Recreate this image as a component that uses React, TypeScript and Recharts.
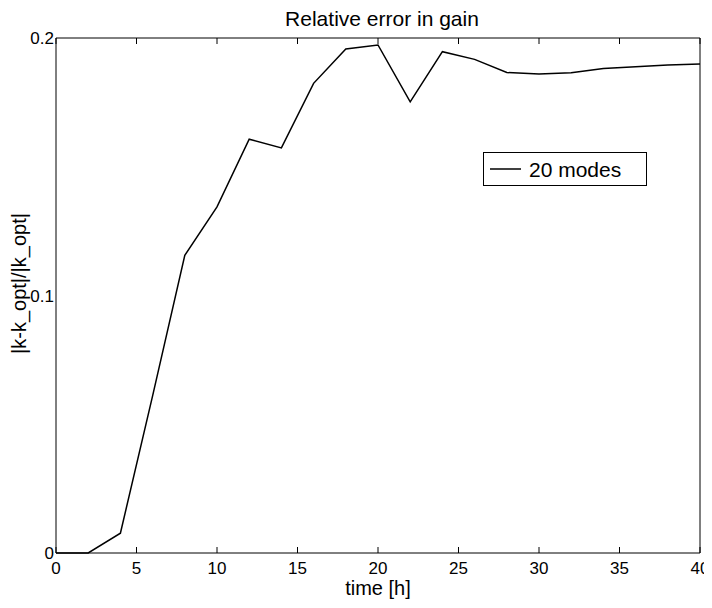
import React from 'react';
import { LineChart, Line, XAxis, YAxis, Legend } from 'recharts';

const times = [0, 2, 4, 6, 8, 10, 12, 14, 16, 18, 20, 22, 24, 26, 28, 30, 32, 34, 36, 38, 40];
const relErrors = [
    0, 0, 0.0077, 0.061, 0.1156, 0.1344, 0.1607, 0.1573, 0.1824, 0.1957, 0.1973, 0.1752, 0.1947, 0.1917,
    0.1866, 0.186, 0.1865, 0.1882, 0.1888, 0.1895, 0.1899,
];
const xTicks = [0, 5, 10, 15, 20, 25, 30, 35, 40];
const yTicks = [0, 0.1, 0.2];
const seriesName = '20 modes';

const data = times.map((t, i) => ({ t, err: relErrors[i] }));

const FONT = '"Liberation Sans", Arial, Helvetica, sans-serif';

// only the tick line is wanted on the box sides, no label
const NoLabel = () => <g />;

const LegendBox = () => (
    <svg width={164} height={34} style={{ display: 'block' }}>
        <rect x={0.5} y={0.5} width={163} height={33} fill="#fff" stroke="#000" strokeWidth={1} />
        <line x1={7} y1={17} x2={38} y2={17} stroke="#000" strokeWidth={1.5} />
        <text x={46} y={25} fontSize={21} fontFamily={FONT} fill="#000">
            {seriesName}
        </text>
    </svg>
);

const YLabel = (props: any) => {
    const vb = props.viewBox || {};
    const cx = vb.x + 11;
    const cy = vb.y + vb.height / 2 - 12;
    return (
        <text
            x={cx}
            y={cy}
            transform={`rotate(-90 ${cx} ${cy})`}
            textAnchor="middle"
            dominantBaseline="central"
            fontSize={20}
            fontFamily={FONT}
            fill="#000"
        >
            |k-k_opt|/|k_opt|
        </text>
    );
};

const XLabel = (props: any) => {
    const vb = props.viewBox || {};
    return (
        <text
            x={vb.x + vb.width / 2}
            y={vb.y + 42}
            textAnchor="middle"
            fontSize={20}
            fontFamily={FONT}
            fill="#000"
        >
            time [h]
        </text>
    );
};

const tickStyle = { fontSize: 17, fontFamily: FONT, fill: '#000' };

const App = () => {
    return (
        <div style={{ position: 'relative', width: 696, height: 592, background: '#fff' }}>
            <style>{'.recharts-surface { overflow: visible; }'}</style>
            <div
                style={{
                    position: 'absolute',
                    top: 1,
                    left: 0,
                    width: 748,
                    textAlign: 'center',
                    fontFamily: FONT,
                    fontSize: 21,
                    lineHeight: '20px',
                    color: '#000',
                    zIndex: 2,
                }}
            >
                Relative error in gain
            </div>
            <LineChart
                width={696}
                height={592}
                data={data}
                margin={{ top: 30, right: 4, left: 0, bottom: 0 }}
            >
                <XAxis
                    xAxisId="main"
                    dataKey="t"
                    type="number"
                    domain={[0, 40]}
                    ticks={xTicks}
                    interval={0}
                    height={47}
                    tickLine={false}
                    tickSize={0}
                    tickMargin={9}
                    axisLine={{ stroke: '#000', strokeWidth: 1 }}
                    tick={tickStyle}
                    label={<XLabel />}
                />
                <XAxis
                    xAxisId="bottomTicks"
                    dataKey="t"
                    type="number"
                    domain={[0, 40]}
                    ticks={xTicks}
                    interval={0}
                    mirror
                    tick={NoLabel}
                    tickSize={6}
                    axisLine={false}
                    tickLine={{ stroke: '#000' }}
                />
                <XAxis
                    xAxisId="top"
                    orientation="top"
                    dataKey="t"
                    type="number"
                    domain={[0, 40]}
                    ticks={xTicks}
                    interval={0}
                    mirror
                    tick={NoLabel}
                    tickSize={6}
                    axisLine={{ stroke: '#000', strokeWidth: 1 }}
                    tickLine={{ stroke: '#000' }}
                />
                <YAxis
                    yAxisId="main"
                    type="number"
                    domain={[0, 0.2]}
                    ticks={yTicks}
                    interval={0}
                    width={48}
                    tickLine={false}
                    tickSize={0}
                    tickMargin={2}
                    axisLine={{ stroke: '#000', strokeWidth: 1 }}
                    tick={tickStyle}
                    label={<YLabel />}
                />
                <YAxis
                    yAxisId="leftTicks"
                    type="number"
                    domain={[0, 0.2]}
                    ticks={yTicks}
                    interval={0}
                    mirror
                    tick={NoLabel}
                    tickSize={6}
                    axisLine={false}
                    tickLine={{ stroke: '#000' }}
                />
                <YAxis
                    yAxisId="right"
                    orientation="right"
                    type="number"
                    domain={[0, 0.2]}
                    ticks={yTicks}
                    interval={0}
                    mirror
                    tick={NoLabel}
                    tickSize={6}
                    axisLine={{ stroke: '#000', strokeWidth: 1 }}
                    tickLine={{ stroke: '#000' }}
                />
                <Legend
                    layout="horizontal"
                    verticalAlign="middle"
                    align="center"
                    content={() => <LegendBox />}
                    wrapperStyle={{ left: 475, top: 144, width: 164, height: 34 }}
                />
                <Line
                    xAxisId="main"
                    yAxisId="main"
                    type="linear"
                    dataKey="err"
                    name={seriesName}
                    stroke="#000"
                    strokeWidth={1.5}
                    dot={false}
                    isAnimationActive={false}
                />
            </LineChart>
        </div>
    );
};

export default App;
